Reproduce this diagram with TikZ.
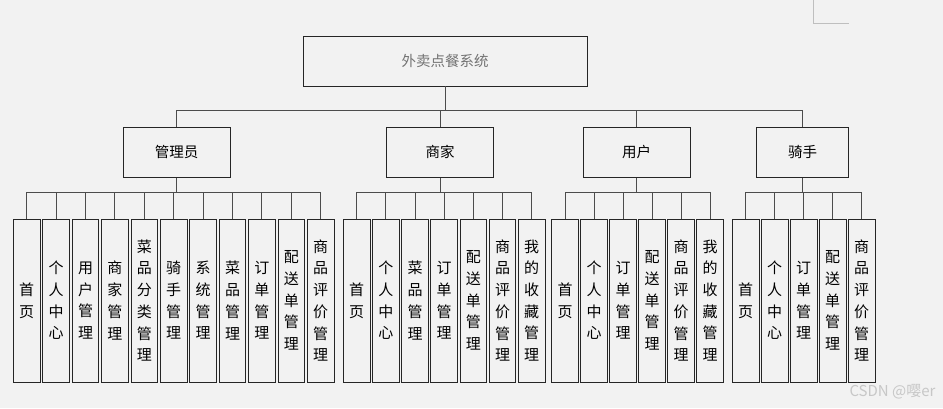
\documentclass[tikz,border=0pt]{standalone}
\usepackage{fontspec}
\setmainfont{Noto Sans CJK SC}
\definecolor{bgc}{HTML}{F2F2F2}
\begin{document}
\begin{tikzpicture}[x=1pt,y=-1pt,font=\fontsize{14.5}{21.7}\selectfont,
    box/.style={draw=black!85,line width=.9pt,fill=bgc,inner sep=0pt},
    role/.style={box,minimum width=107pt,minimum height=50pt},
    leaf/.style={box,minimum width=26.7pt,minimum height=163pt,align=center,font=\fontsize{15}{21.7}\selectfont},
    link/.style={draw=black!70,line width=.9pt}]
    \def\ly{300.5} \def\ry{152.3}
    \fill[bgc] (0,0) rectangle (943,408);
    \useasboundingbox (0,0) rectangle (943,408);
    \draw[black!25,line width=.8pt] (813,0) |- (849,23.3);
    %===========================================
    \node[box,minimum width=284pt,minimum height=50pt,text=black!55] (sys) at (445,61) {外卖点餐系统};
    \foreach \n/\t/\x/\w in {adm/管理员/176.5/107,mer/商家/440/107,usr/用户/636.7/107,rid/骑手/802.5/92}
        {\node[role,minimum width=\w pt] (\n) at (\x,\ry) {\t};
        \draw[link] (\n.north) -- ++(0,-16) -| (sys.south);}
    %===========================================
    \foreach \t [count=\i] in {{首\\页},{个\\人\\中\\心},{用\\户\\管\\理},{商\\家\\管\\理},
            {菜\\品\\分\\类\\管\\理},{骑\\手\\管\\理},{系\\统\\管\\理},{菜\\品\\管\\理},
            {订\\单\\管\\理},{配\\送\\单\\管\\理},{商\\品\\评\\价\\管\\理}}
        {\node[leaf] (a\i) at ({26.7+29.4*(\i-1)},\ly) {\t};
        \draw[link] (a\i.north) -- ++(0,-26) -| (adm.south);}
    \foreach \t [count=\i] in {{首\\页},{个\\人\\中\\心},{菜\\品\\管\\理},{订\\单\\管\\理},
            {配\\送\\单\\管\\理},{商\\品\\评\\价\\管\\理},{我\\的\\收\\藏\\管\\理}}
        {\node[leaf] (m\i) at ({356.7+29.17*(\i-1)},\ly) {\t};
        \draw[link] (m\i.north) -- ++(0,-26) -| (mer.south);}
    \foreach \t [count=\i] in {{首\\页},{个\\人\\中\\心},{订\\单\\管\\理},
            {配\\送\\单\\管\\理},{商\\品\\评\\价\\管\\理},{我\\的\\收\\藏\\管\\理}}
        {\node[leaf] (u\i) at ({565+29*(\i-1)},\ly) {\t};
        \draw[link] (u\i.north) -- ++(0,-26) -| (usr.south);}
    \foreach \t [count=\i] in {{首\\页},{个\\人\\中\\心},{订\\单\\管\\理},
            {配\\送\\单\\管\\理},{商\\品\\评\\价\\管\\理}}
        {\node[leaf] (r\i) at ({745.7+29*(\i-1)},\ly) {\t};
        \draw[link] (r\i.north) -- ++(0,-26) -| (rid.south);}
    %===========================================
    \node[anchor=east,text=black!22,font=\fontsize{15}{15}\selectfont] (wm) at (939,391.7) {CSDN @嘤er};
\end{tikzpicture}
\end{document}
